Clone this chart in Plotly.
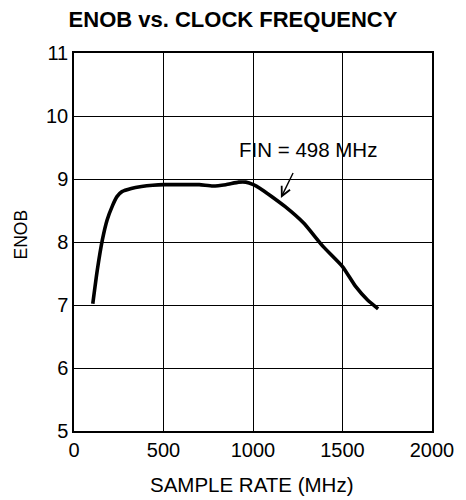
import plotly.graph_objects as go

# Data
sample_rate_mhz = [105, 130, 159, 185, 214, 240, 268, 320, 377, 440, 504, 600, 700, 775,
                   848, 920, 960, 1002, 1040, 1100, 1180, 1283, 1391, 1500, 1572, 1640, 1699]
enob = [7.02, 7.55, 8.04, 8.35, 8.57, 8.72, 8.80, 8.85, 8.88, 8.90, 8.91, 8.91, 8.91, 8.89,
        8.91, 8.95, 8.95, 8.91, 8.85, 8.73, 8.56, 8.30, 7.93, 7.61, 7.30, 7.08, 6.94]

x_ticks = [0, 500, 1000, 1500, 2000]
y_ticks = [5, 6, 7, 8, 9, 10, 11]

FONT = "Liberation Sans, Arial, sans-serif"

L, R, T, B = 74, 24, 53, 69
W, H = 466, 500
PW, PH = W - L - R, H - T - B

fig = go.Figure()
fig.add_trace(go.Scatter(
    x=sample_rate_mhz, y=enob, mode="lines",
    line=dict(color="black", width=3.6, shape="spline", smoothing=0.5),
    showlegend=False, hoverinfo="skip"))

fig.update_layout(
    width=W, height=H,
    margin=dict(l=L, r=R, t=T, b=B),
    paper_bgcolor="white", plot_bgcolor="white",
    font=dict(family=FONT, size=18, color="black"),
    title=dict(text="<b>ENOB vs. CLOCK FREQUENCY</b>", x=0.5, xanchor="center",
               y=1 - 19 / 500, yanchor="middle", font=dict(size=22, family=FONT)),
    xaxis=dict(range=[0, 2000], tickvals=x_ticks, ticks="", showline=True, linecolor="black",
               linewidth=1.5, mirror=True, showgrid=True, gridcolor="black", gridwidth=1.3,
               zeroline=False, tickfont=dict(size=20)),
    yaxis=dict(range=[5, 11], tickvals=y_ticks, ticks="", showline=True, linecolor="black",
               linewidth=1.5, mirror=True, showgrid=True, gridcolor="black", gridwidth=1.3,
               zeroline=False, tickfont=dict(size=20)),
    annotations=[
        dict(x=1310, y=9.47, xref="x", yref="y", text="FIN = 498 MHz", showarrow=False,
             font=dict(size=20.5, family=FONT)),
        dict(x=1156, y=8.70, xref="x", yref="y", ax=1228, ay=9.12, axref="x", ayref="y",
             text="", showarrow=True, arrowhead=5, arrowsize=1.3, arrowwidth=1.4,
             arrowcolor="black"),
        dict(text="SAMPLE RATE (MHz)", xref="paper", yref="paper",
             x=(257 - L) / PW, y=-(484 - (T + PH)) / PH, xanchor="center", yanchor="middle",
             showarrow=False, font=dict(size=20.5, family=FONT)),
        dict(text="ENOB", xref="paper", yref="paper", textangle=-90,
             x=(20 - L) / PW, y=(T + PH - 234) / PH, xanchor="center", yanchor="middle",
             showarrow=False, font=dict(size=17.5, family=FONT)),
    ],
)

fig.write_html("out.html")
